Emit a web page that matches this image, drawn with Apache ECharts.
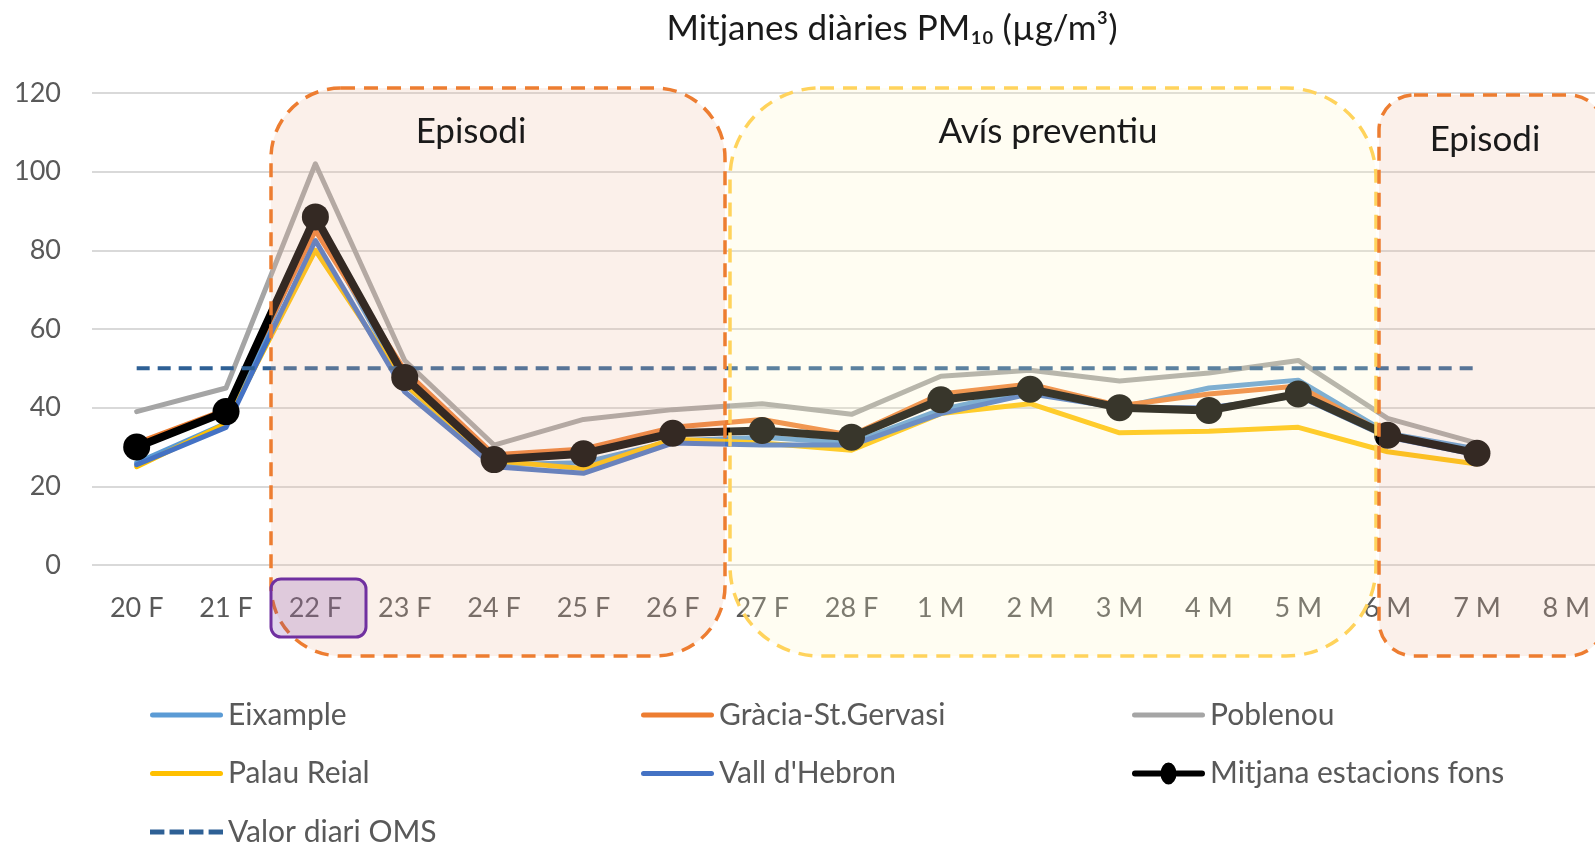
<!DOCTYPE html>
<html>
<head>
    <meta charset="utf-8">
    <title>PM10</title>
    <script src="https://cdn.jsdelivr.net/npm/echarts@6/dist/echarts.min.js"></script>
    <style>
        html, body { margin: 0; padding: 0; background: #fff; }
        #main { width: 1595px; height: 846px; }
    </style>
</head>
<body>
<div id="main"></div>
<script type="text/javascript">
    var myChart = echarts.init(document.getElementById('main'));

    // dies (20 febrer - 8 març)
    var dies = ['20 F', '21 F', '22 F', '23 F', '24 F', '25 F', '26 F', '27 F', '28 F',
        '1 M', '2 M', '3 M', '4 M', '5 M', '6 M', '7 M', '8 M'];

    // mitjanes diàries per estació
    var eixample = [26, 36, 87, 46, 25.5, 26, 31.5, 32.5, 31, 39.5, 44.5, 40, 45, 47, 33.5, 29.5, null];
    var gracia = [31, 39.5, 85, 49.5, 28, 29.5, 35, 37, 33, 43.5, 46, 40.5, 43.5, 45.5, 33, 28.5, null];
    var poblenou = [39, 45, 102, 52, 30.5, 37, 39.5, 41, 38.3, 48, 49.5, 46.8, 48.8, 52, 37.3, 31, null];
    var palauReial = [25, 36, 80, 46, 26.5, 24.5, 32, 31, 29.2, 38.5, 41, 33.6, 34, 35, 28.8, 25.7, null];
    var vallHebron = [25.5, 35, 82.5, 44, 25, 23.3, 31, 30.5, 30.5, 38.5, 43.5, 40, 40, 43, 32.5, 28, null];
    var mitjana = [30, 39, 88.5, 47.7, 26.8, 28.3, 33.5, 34.2, 32.5, 42, 44.7, 40, 39.3, 43.5, 33, 28.4, null];
    var valorOMS = [50, 50, 50, 50, 50, 50, 50, 50, 50, 50, 50, 50, 50, 50, 50, 50, null];

    var yTicks = [0, 20, 40, 60, 80, 100, 120];

    var font = 'Lato, "Open Sans", sans-serif';
    var gris = '#595959';

    // icones de la llegenda
    var iconLinia = 'path://M2.5,0h68a2.5,2.5 0 0 1 0,5h-68a2.5,2.5 0 0 1 0,-5z';
    var iconDiscontinua = 'path://M0,0h14v5h-14z M19,0h14v5h-14z M38,0h14v5h-14z M57,0h14v5h-14z';
    var iconMitjana = 'path://M3,9h67a3,3 0 0 1 0,6h-67a3,3 0 0 1 0,-6z M28.5,12a8,11 0 1,1 16,0a8,11 0 1,1 -16,0z';

    function linia(nom, dades, color, amplada) {
        return {
            name: nom,
            type: 'line',
            data: dades,
            symbol: 'none',
            lineStyle: { color: color, width: amplada, cap: 'round', join: 'round' },
            itemStyle: { color: color }
        };
    }

    // requadres dels episodis (dibuixats per sobre, semitransparents)
    function requadre(x, y, w, h, r, fons, vora) {
        return {
            type: 'rect',
            z: 100,
            shape: { x: x, y: y, width: w, height: h, r: r },
            style: { fill: fons, stroke: vora, lineWidth: 3.5, lineDash: [14, 9] }
        };
    }

    function rotul(text, x, y) {
        return {
            type: 'text',
            z: 101,
            x: x,
            y: y,
            style: {
                text: text, font: '35px ' + font, fill: '#1a1a1a',
                textAlign: 'center', textVerticalAlign: 'middle'
            }
        };
    }

    var llegenda = {
        orient: 'vertical',
        itemWidth: 73,
        itemHeight: 22,
        itemGap: 24.5,
        padding: 0,
        top: 698,
        height: 200,
        textStyle: { fontFamily: font, fontSize: 30, color: gris, lineHeight: 34 }
    };

    option = {
        animation: false,
        title: {
            text: 'Mitjanes diàries PM₁₀ (µg/m³)',
            left: 887,
            top: 6,
            textAlign: 'center',
            textStyle: { fontFamily: font, fontSize: 35, fontWeight: 'normal', color: '#1a1a1a' }
        },
        grid: { left: 92, width: 1519, top: 93, bottom: 281, containLabel: false, outerBoundsMode: 'none' },
        legend: [
            Object.assign({}, llegenda, { left: 150, data: [
                { name: 'Eixample', icon: iconLinia },
                { name: 'Palau Reial', icon: iconLinia },
                { name: 'Valor diari OMS', icon: iconDiscontinua }
            ] }),
            Object.assign({}, llegenda, { left: 641, data: [
                { name: 'Gràcia-St.Gervasi', icon: iconLinia },
                { name: "Vall d'Hebron", icon: iconLinia }
            ] }),
            Object.assign({}, llegenda, { left: 1132, data: [
                { name: 'Poblenou', icon: iconLinia },
                { name: 'Mitjana estacions fons', icon: iconMitjana }
            ] })
        ],
        xAxis: {
            type: 'category',
            data: dies,
            boundaryGap: true,
            axisLine: { show: false },
            axisTick: { show: false },
            axisLabel: { fontFamily: font, fontSize: 27, color: gris, margin: 30, interval: 0 }
        },
        yAxis: {
            type: 'value',
            min: yTicks[0],
            max: yTicks[yTicks.length - 1],
            interval: 20,
            axisLine: { show: false },
            axisTick: { show: false },
            axisLabel: { fontFamily: font, fontSize: 27, color: gris, margin: 31 },
            splitLine: { lineStyle: { color: '#D9D9D9', width: 2 } }
        },
        series: [
            linia('Eixample', eixample, '#5B9BD5', 5),
            linia('Gràcia-St.Gervasi', gracia, '#ED7D31', 5),
            linia('Poblenou', poblenou, '#A5A5A5', 5),
            linia('Palau Reial', palauReial, '#FFC000', 5),
            linia("Vall d'Hebron", vallHebron, '#4472C4', 5),
            {
                name: 'Mitjana estacions fons',
                type: 'line',
                data: mitjana,
                symbol: 'circle',
                symbolSize: 27,
                lineStyle: { color: '#000', width: 8, join: 'round' },
                itemStyle: { color: '#000' }
            },
            {
                name: 'Valor diari OMS',
                type: 'line',
                data: valorOMS,
                symbol: 'none',
                lineStyle: { color: '#2E6095', width: 4, type: [13, 8] },
                itemStyle: { color: '#2E6095' }
            }
        ],
        graphic: [
            requadre(271, 88, 454, 568, 70, 'rgba(237,187,160,0.22)', '#ED7D31'),
            requadre(730, 88, 646, 568, 90, 'rgba(255,246,196,0.22)', '#FFD35C'),
            requadre(1379, 95, 225, 561, 35, 'rgba(237,187,160,0.22)', '#ED7D31'),
            {
                type: 'rect',
                z: 100,
                shape: { x: 271, y: 579, width: 95, height: 58, r: 10 },
                style: { fill: 'rgba(112,48,160,0.2)', stroke: '#7030A0', lineWidth: 3 }
            },
            rotul('Episodi', 471, 132),
            rotul('Avís preventiu', 1048, 132),
            rotul('Episodi', 1485, 140)
        ]
    };

    myChart.setOption(option);
</script>
</body>
</html>
